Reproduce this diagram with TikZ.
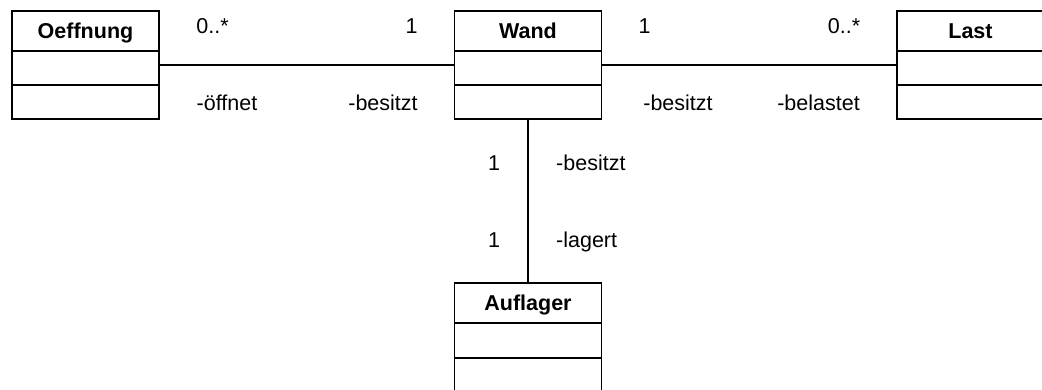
\documentclass[tikz,border=0pt]{standalone}
\usepackage{fontspec}
\setmainfont{Liberation Sans}
\begin{document}
\begin{tikzpicture}[x=1pt,y=-1pt,
  classbox/.style={draw, line width=1.6pt, minimum width=147pt, minimum height=108pt, inner sep=0pt, outer sep=0pt},
  title/.style={font=\fontsize{21.5}{24}\selectfont\bfseries, anchor=base, inner sep=0pt},
  lbl/.style={font=\fontsize{21.5}{24}\selectfont, anchor=base, inner sep=0pt},
  conn/.style={line width=1.2pt},
  sep/.style={line width=1.6pt}]
\useasboundingbox (0,0) rectangle (1042,389);
% classes
\node[classbox] (O) at (85.5,65) {};
\node[classbox] (W) at (528,65) {};
\node[classbox, minimum width=150pt] (L) at (972,65) {};
\node[classbox] (A) at (528,337) {};
% compartments
\foreach \n in {O,W,L}{
  \draw[sep] ([yshift=-40pt]\n.north west) -- ([yshift=-40pt]\n.north east);
  \draw[sep] ([yshift=-74pt]\n.north west) -- ([yshift=-74pt]\n.north east);
}
\draw[sep] ([yshift=-40pt]A.north west) -- ([yshift=-40pt]A.north east);
\draw[sep] ([yshift=-75pt]A.north west) -- ([yshift=-75pt]A.north east);
% titles
\node[title] (tO) at (85.5,38.5) {Oeffnung};
\node[title] (tW) at (528,38.5) {Wand};
\node[title] (tL) at (970.5,38.5) {Last};
\node[title] (tA) at (528,310.5) {Auflager};
% connectors
\draw[conn] (O.east) -- (W.west);
\draw[conn] (W.east) -- (L.west);
\draw[conn] (W.south) -- (A.north);
% labels
\node[lbl] (m1) at (212.5,33) {0..*};
\node[lbl] (m2) at (411.5,33) {1};
\node[lbl] (r1) at (227,110) {-öffnet};
\node[lbl] (r2) at (383,110) {-besitzt};
\node[lbl] (m3) at (644.5,33) {1};
\node[lbl] (m4) at (844,33) {0..*};
\node[lbl] (r3) at (678,110) {-besitzt};
\node[lbl] (r4) at (818.5,110) {-belastet};
\node[lbl] (m5) at (494,170) {1};
\node[lbl, anchor=base west] (r5) at (556,170) {-besitzt};
\node[lbl] (m6) at (494,247) {1};
\node[lbl, anchor=base west] (r6) at (556,247) {-lagert};
\end{tikzpicture}
\end{document}
